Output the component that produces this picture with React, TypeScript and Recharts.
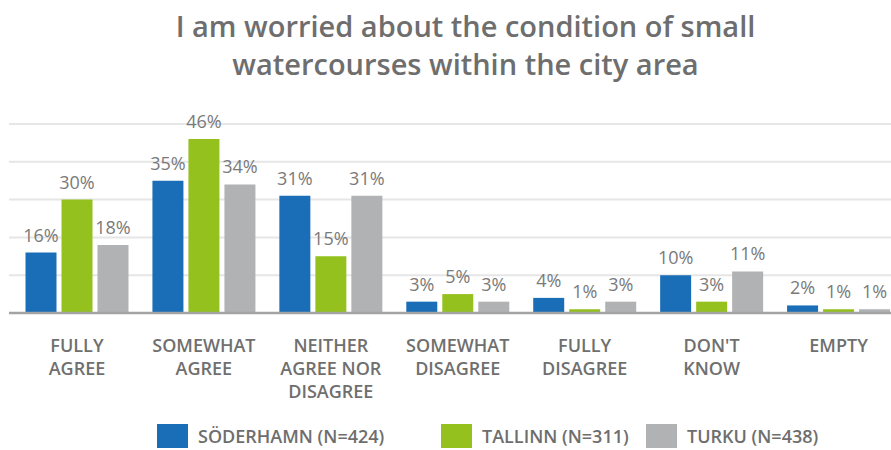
import React from 'react';
import { BarChart, Bar, XAxis, YAxis, CartesianGrid, LabelList } from 'recharts';

// survey answers (x axis)
const categories = [
    'FULLY\nAGREE',
    'SOMEWHAT\nAGREE',
    'NEITHER\nAGREE NOR\nDISAGREE',
    'SOMEWHAT\nDISAGREE',
    'FULLY\nDISAGREE',
    "DON'T\nKNOW",
    'EMPTY',
];

// share of respondents, %
const soderhamn = [16, 35, 31, 3, 4, 10, 2];
const tallinn = [30, 46, 15, 5, 1, 3, 1];
const turku = [18, 34, 31, 3, 3, 11, 1];

const yTicks = [0, 10, 20, 30, 40, 50];

const series = [
    { key: 'soderhamn', name: 'SÖDERHAMN (N=424)', color: '#1a6eb7', w: 284 },
    { key: 'tallinn', name: 'TALLINN (N=311)', color: '#95c11f', w: 205 },
    { key: 'turku', name: 'TURKU (N=438)', color: '#b1b2b4', w: 180 },
];

const data = categories.map((name, i) => ({
    name,
    soderhamn: soderhamn[i],
    tallinn: tallinn[i],
    turku: turku[i],
}));

const FONT = '"Open Sans", sans-serif';

const CategoryTick = (props: any) => {
    const { x, y, payload } = props;
    const lines = String(payload.value).split('\n');
    return (
        <text x={x} y={y + 39} textAnchor="middle" fill="#6f6f6f" fontFamily={FONT} fontSize={18} fontWeight={600}>
            {lines.map((l, i) => (
                <tspan key={i} x={x} dy={i === 0 ? 0 : 23}>{l}</tspan>
            ))}
        </text>
    );
};

export default function App() {
    return (
        <div style={{ position: 'absolute', left: 0, top: 0, width: 891, height: 450, overflow: 'hidden', background: '#fff', fontFamily: FONT }}>
            {/* Title */}
            <div style={{ position: 'absolute', left: 40, top: 7, width: 851, textAlign: 'center', fontSize: 29, lineHeight: '38px', fontWeight: 600, color: '#6e6e6e' }}>
                I am worried about the condition of small<br />watercourses within the city area
            </div>

            <div style={{ position: 'absolute', left: 0, top: 0 }}>
                <BarChart width={902} height={450} data={data} margin={{ top: 124, right: 0, bottom: 47, left: 9 }} barSize={31} barGap={5}>
                    <CartesianGrid vertical={false} stroke="#e6e6e6" strokeWidth={2} />
                    <YAxis hide domain={[0, 50]} ticks={yTicks} />
                    <XAxis
                        dataKey="name"
                        height={90}
                        padding={{ left: 4.5, right: 0 }}
                        tickLine={false}
                        tickSize={0}
                        tickMargin={0}
                        axisLine={{ stroke: '#a3a3a3', strokeWidth: 2.5 }}
                        tick={<CategoryTick />}
                        interval={0}
                    />
                    {series.map((s) => (
                        <Bar key={s.key} dataKey={s.key} name={s.name} fill={s.color} isAnimationActive={false}>
                            <LabelList
                                dataKey={s.key}
                                position="top"
                                offset={11}
                                formatter={(v: any) => `${v}%`}
                                style={{ fill: '#7a7a7a', fontFamily: FONT, fontSize: 18 }}
                            />
                        </Bar>
                    ))}
                </BarChart>
            </div>

            {/* Legend */}
            <div style={{ position: 'absolute', left: 157, top: 424, display: 'flex', alignItems: 'center' }}>
                {series.map((s) => (
                    <div key={s.key} style={{ display: 'flex', alignItems: 'center', gap: 10, width: s.w }}>
                        <div style={{ width: 31, height: 24, background: s.color }} />
                        <span style={{ fontSize: 18, fontWeight: 600, color: '#6e6e6e', lineHeight: '24px' }}>{s.name}</span>
                    </div>
                ))}
            </div>
        </div>
    );
}
